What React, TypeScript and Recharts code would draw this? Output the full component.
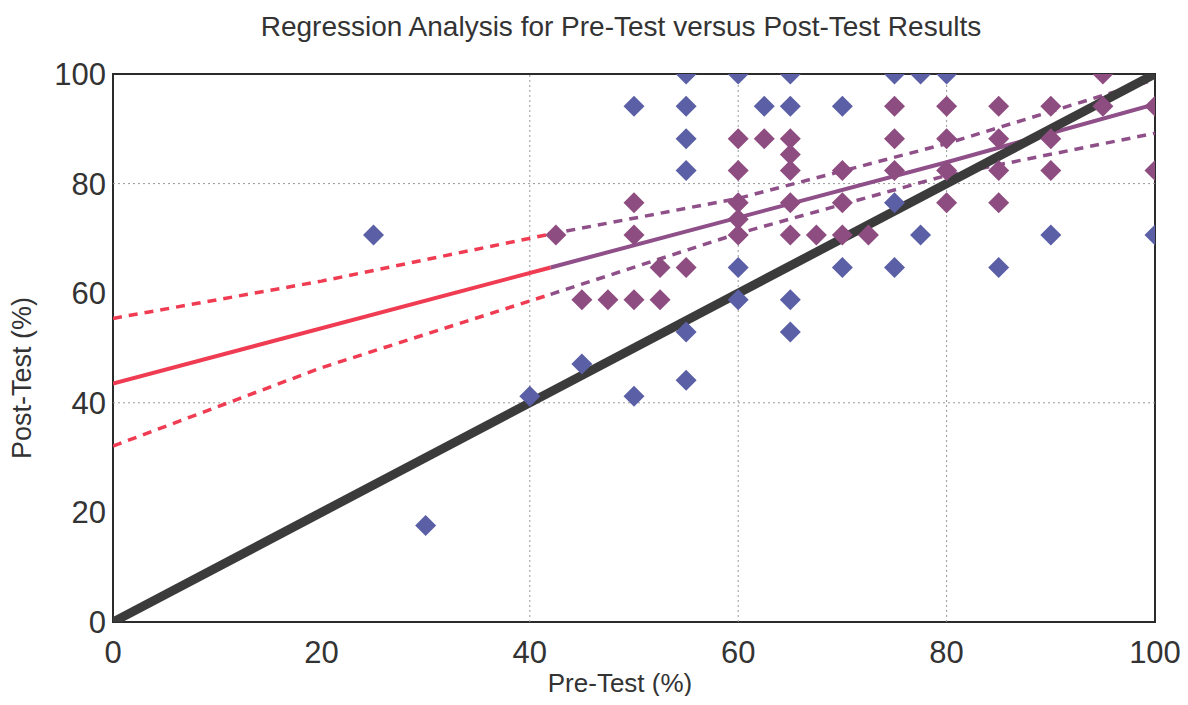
import React from 'react';
import {
  ComposedChart,
  Scatter,
  Line,
  XAxis,
  YAxis,
  ReferenceLine,
  ReferenceArea
} from 'recharts';

// pre-test vs post-test scores, group A (blue) and group B (purple)
const bluePoints = [
  { x: 25, y: 70.6 }, { x: 30, y: 17.6 }, { x: 40, y: 41.2 }, { x: 45, y: 47.1 },
  { x: 50, y: 41.2 }, { x: 50, y: 94.1 }, { x: 55, y: 100 }, { x: 55, y: 94.1 },
  { x: 55, y: 88.2 }, { x: 55, y: 82.4 }, { x: 55, y: 52.9 }, { x: 55, y: 44.1 },
  { x: 60, y: 100 }, { x: 60, y: 64.7 }, { x: 60, y: 58.8 }, { x: 62.5, y: 94.1 },
  { x: 65, y: 100 }, { x: 65, y: 94.1 }, { x: 65, y: 58.8 }, { x: 65, y: 52.9 },
  { x: 70, y: 94.1 }, { x: 70, y: 64.7 }, { x: 75, y: 100 }, { x: 75, y: 64.7 },
  { x: 75, y: 76.5 }, { x: 77.5, y: 100 }, { x: 77.5, y: 70.6 }, { x: 80, y: 100 },
  { x: 85, y: 64.7 }, { x: 90, y: 70.6 }, { x: 100, y: 70.6 }
];

const purplePoints = [
  { x: 42.5, y: 70.6 }, { x: 45, y: 58.8 }, { x: 47.5, y: 58.8 }, { x: 50, y: 58.8 },
  { x: 50, y: 70.6 }, { x: 50, y: 76.5 }, { x: 52.5, y: 64.7 }, { x: 52.5, y: 58.8 },
  { x: 55, y: 64.7 }, { x: 60, y: 88.2 }, { x: 60, y: 82.4 }, { x: 60, y: 76.5 },
  { x: 60, y: 73.5 }, { x: 60, y: 70.6 }, { x: 62.5, y: 88.2 }, { x: 65, y: 88.2 },
  { x: 65, y: 85.3 }, { x: 65, y: 82.4 }, { x: 65, y: 76.5 }, { x: 65, y: 70.6 },
  { x: 67.5, y: 70.6 }, { x: 70, y: 82.4 }, { x: 70, y: 76.5 }, { x: 70, y: 70.6 },
  { x: 72.5, y: 70.6 }, { x: 75, y: 94.1 }, { x: 75, y: 88.2 }, { x: 75, y: 82.4 },
  { x: 80, y: 94.1 }, { x: 80, y: 88.2 }, { x: 80, y: 82.4 }, { x: 80, y: 76.5 },
  { x: 85, y: 94.1 }, { x: 85, y: 88.2 }, { x: 85, y: 82.4 }, { x: 85, y: 76.5 },
  { x: 90, y: 94.1 }, { x: 90, y: 88.2 }, { x: 90, y: 82.4 }, { x: 95, y: 100 },
  { x: 95, y: 94.1 }, { x: 100, y: 94.1 }, { x: 100, y: 82.4 }
];

// y = x reference
const identityLine = [{ x: 0, y: 0 }, { x: 100, y: 100 }];

// regression fit and confidence band
const fitRed = [{ x: 0, y: 43.5 }, { x: 42, y: 64.7 }];
const fitPurple = [{ x: 42, y: 64.7 }, { x: 60, y: 73.8 }, { x: 80, y: 83.9 }, { x: 100, y: 94.5 }];
const upperRed = [{ x: 0, y: 55.4 }, { x: 20, y: 62.2 }, { x: 42, y: 70.8 }];
const upperPurple = [{ x: 42, y: 70.8 }, { x: 60, y: 77.3 }, { x: 80, y: 87.3 }, { x: 100, y: 99 }];
const lowerRed = [{ x: 0, y: 32.1 }, { x: 20, y: 46.4 }, { x: 42, y: 59.8 }];
const lowerPurple = [{ x: 42, y: 59.8 }, { x: 60, y: 70.9 }, { x: 80, y: 81.5 }, { x: 100, y: 89.2 }];

const ticks = [0, 20, 40, 60, 80, 100];
const gridX = [40, 60, 80];
const gridY = [40, 80];

const BLUE = '#5b5fa6';
const PURPLE = '#8e4d80';
const RED = '#f03c52';
const PURPLE_LINE = '#8f4f88';
const FONT = '"Liberation Sans", Arial, sans-serif';

const Diamond = (props: any) => {
  const { cx, cy, fill } = props;
  const r = 10.5;
  if (cx == null || cy == null) return null;
  return (
    <path
      d={`M${cx},${cy - r}L${cx + r},${cy}L${cx},${cy + r}L${cx - r},${cy}Z`}
      fill={fill}
    />
  );
};

const tickStyle = { fontSize: 31, fill: '#333', fontFamily: FONT };

export default function App() {
  return (
    <div style={{ position: 'relative', width: 1172, height: 688, fontFamily: FONT }}>
      <div
        style={{
          position: 'absolute',
          left: 0,
          width: 1226,
          top: 3,
          textAlign: 'center',
          fontSize: 28,
          color: '#333'
        }}
      >
        Regression Analysis for Pre-Test versus Post-Test Results
      </div>
      <ComposedChart
        width={1172}
        height={688}
        margin={{ top: 66, right: 25, bottom: 34, left: 35 }}
      >
        <XAxis
          type='number'
          dataKey='x'
          domain={[0, 100]}
          ticks={ticks}
          tick={tickStyle}
          tickLine={false}
          axisLine={false}
          tickMargin={13}
          height={40}
          allowDataOverflow
        />
        <YAxis
          type='number'
          dataKey='y'
          domain={[0, 100]}
          ticks={ticks}
          tick={tickStyle}
          tickLine={false}
          axisLine={false}
          tickMargin={1}
          width={70}
          allowDataOverflow
        />
        {gridX.map((v) => (
          <ReferenceLine key={`gx${v}`} x={v} stroke='#999' strokeDasharray='2 3' />
        ))}
        {gridY.map((v) => (
          <ReferenceLine key={`gy${v}`} y={v} stroke='#999' strokeDasharray='2 3' />
        ))}
        <ReferenceArea x1={0} x2={100} y1={0} y2={100} fill='none' stroke='#2b2b2b' strokeWidth={2} />

        <Scatter data={bluePoints} fill={BLUE} shape={<Diamond />} isAnimationActive={false} />
        <Scatter data={purplePoints} fill={PURPLE} shape={<Diamond />} isAnimationActive={false} />

        <Line data={upperRed} dataKey='y' stroke={RED} strokeWidth={3.5} strokeDasharray='9 7' dot={false} isAnimationActive={false} />
        <Line data={lowerRed} dataKey='y' stroke={RED} strokeWidth={3.5} strokeDasharray='9 7' dot={false} isAnimationActive={false} />
        <Line data={upperPurple} dataKey='y' stroke={PURPLE_LINE} strokeWidth={3.5} strokeDasharray='9 7' dot={false} isAnimationActive={false} />
        <Line data={lowerPurple} dataKey='y' stroke={PURPLE_LINE} strokeWidth={3.5} strokeDasharray='9 7' dot={false} isAnimationActive={false} />
        <Line data={fitRed} dataKey='y' stroke={RED} strokeWidth={4} dot={false} isAnimationActive={false} />
        <Line data={fitPurple} dataKey='y' stroke={PURPLE_LINE} strokeWidth={4} dot={false} isAnimationActive={false} />
        <Line data={identityLine} dataKey='y' stroke='#3b3b3b' strokeWidth={9} dot={false} isAnimationActive={false} />
      </ComposedChart>
      <div
        style={{
          position: 'absolute',
          left: 0,
          width: 1224,
          top: 662,
          lineHeight: '26px',
          textAlign: 'center',
          fontSize: 26,
          color: '#333'
        }}
      >
        Pre-Test (%)
      </div>
      <div
        style={{
          position: 'absolute',
          left: 14,
          top: 370,
          transform: 'translate(-50%, -50%) rotate(-90deg)',
          whiteSpace: 'nowrap',
          fontSize: 27,
          color: '#333'
        }}
      >
        Post-Test (%)
      </div>
    </div>
  );
}
